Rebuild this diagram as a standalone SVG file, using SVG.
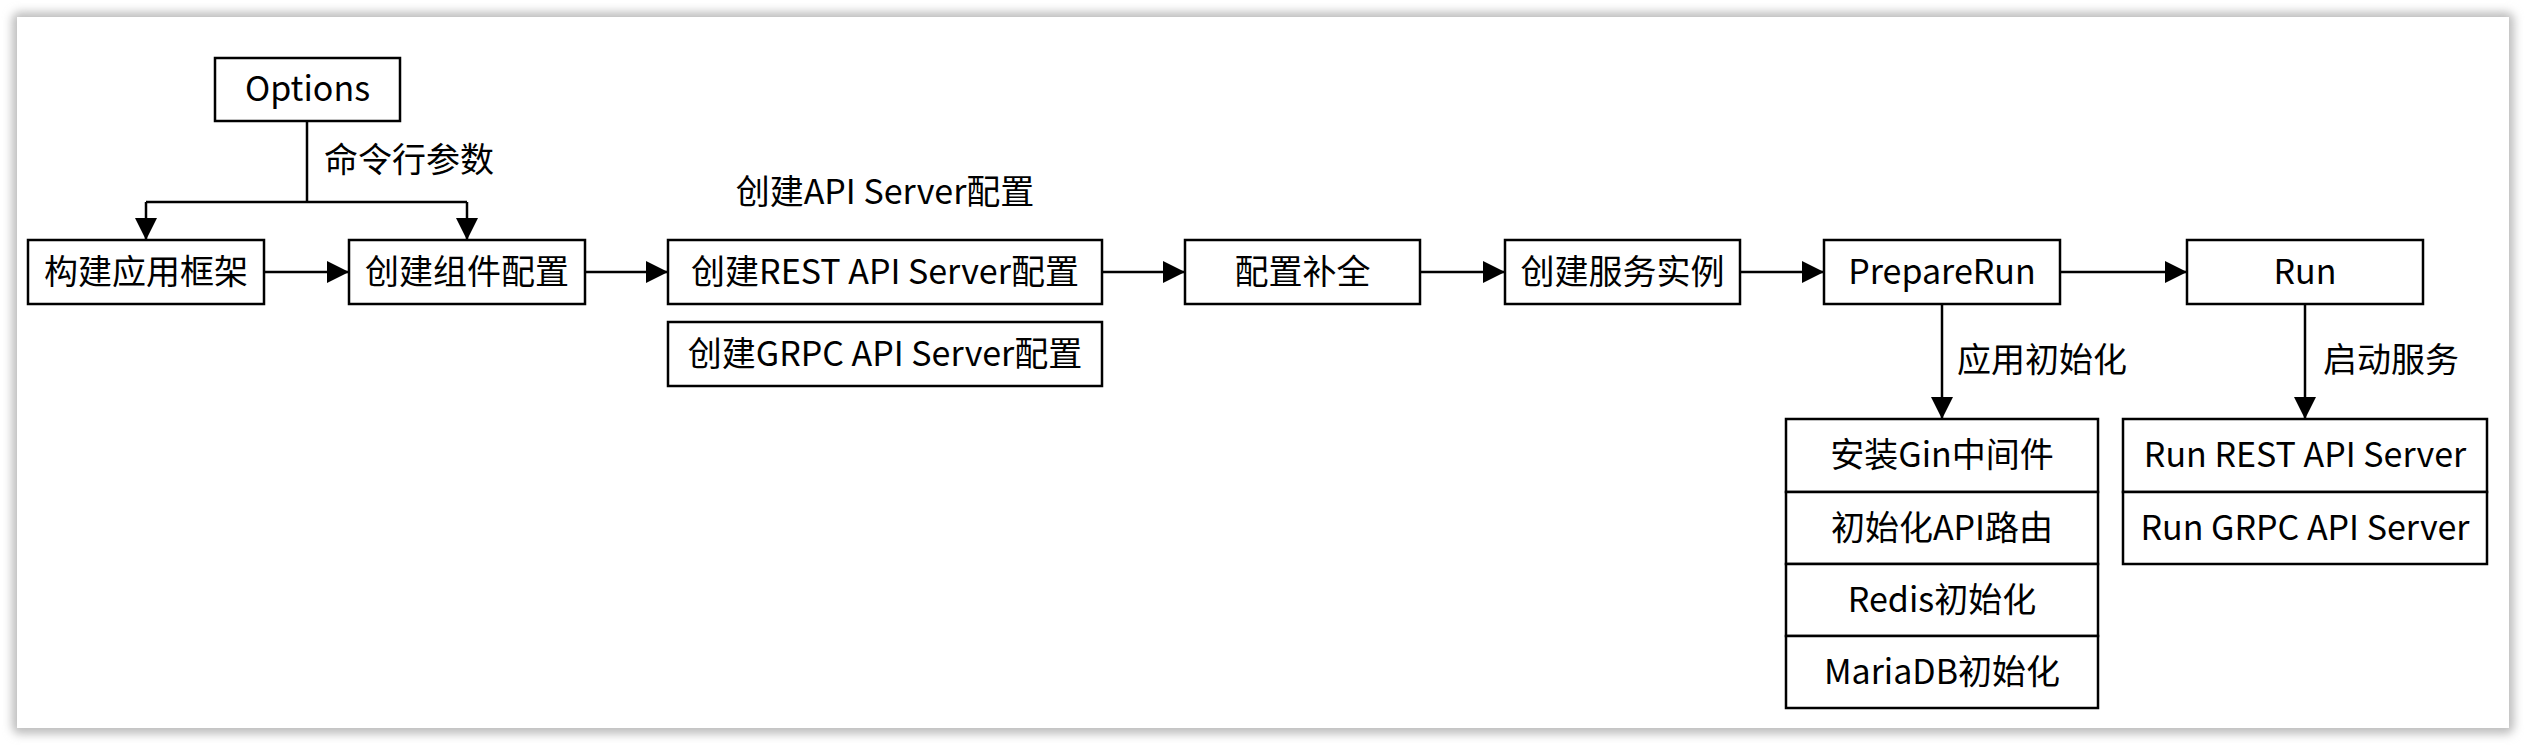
<svg xmlns="http://www.w3.org/2000/svg" width="2527" height="747" viewBox="0 0 2527 747">
<style>
.box{fill:#fff;stroke:#000;stroke-width:2.5}
.t{font-family:"Noto Sans CJK SC","Noto Sans",sans-serif;font-size:34px;fill:#000;dominant-baseline:central;text-anchor:middle}
.lbl{font-family:"Noto Sans CJK SC","Noto Sans",sans-serif;font-size:34px;fill:#000;dominant-baseline:central}
.c{fill:none;stroke:#000;stroke-width:2.5}
.ca{fill:none;stroke:#000;stroke-width:2.5;marker-end:url(#ah)}
</style>
<defs>
<marker id="ah" viewBox="0 0 22 22" refX="22" refY="11" markerWidth="22" markerHeight="22" markerUnits="userSpaceOnUse" orient="auto">
<path d="M0,0 L22,11 L0,22 z" fill="#000"/>
</marker>
<filter id="sh" x="-5%" y="-5%" width="110%" height="110%">
<feGaussianBlur stdDeviation="5"/>
</filter>
</defs>
<rect width="2527" height="747" fill="#fff"/>
<rect x="12" y="12" width="2502" height="722" rx="8" fill="#bdbdbd" filter="url(#sh)"/>
<rect x="17" y="17" width="2492" height="711" fill="#fff"/>

<g id="connectors">
<path class="c" d="M307,121 V202 M146,202 H467"/>
<path class="ca" d="M146,202 V240"/>
<path class="ca" d="M467,202 V240"/>
<path class="ca" d="M264,272 H349"/>
<path class="ca" d="M585,272 H668"/>
<path class="ca" d="M1102,272 H1185"/>
<path class="ca" d="M1420,272 H1505"/>
<path class="ca" d="M1740,272 H1824"/>
<path class="ca" d="M2060,272 H2187"/>
<path class="ca" d="M1942,304 V419"/>
<path class="ca" d="M2305,304 V419"/>
<text class="lbl" x="324" y="157">命令行参数</text>
<text class="lbl" x="1957" y="357">应用初始化</text>
<text class="lbl" x="2323" y="357">启动服务</text>
</g>

<g id="options"><rect class="box" x="215" y="58" width="185" height="63"/><text class="t" x="307.5" y="86">Options</text></g>
<g id="build-app"><rect class="box" x="28" y="240" width="236" height="64"/><text class="t" x="146" y="269">构建应用框架</text></g>
<g id="create-config"><rect class="box" x="349" y="240" width="236" height="64"/><text class="t" x="467" y="269">创建组件配置</text></g>
<g id="api-server-config">
<text class="t" x="885" y="189">创建API Server配置</text>
<rect class="box" x="668" y="240" width="434" height="64"/><text class="t" x="885" y="269">创建REST API Server配置</text>
<rect class="box" x="668" y="322" width="434" height="64"/><text class="t" x="885" y="351">创建GRPC API Server配置</text>
</g>
<g id="complete"><rect class="box" x="1185" y="240" width="235" height="64"/><text class="t" x="1302.5" y="269">配置补全</text></g>
<g id="new-server"><rect class="box" x="1505" y="240" width="235" height="64"/><text class="t" x="1622.5" y="269">创建服务实例</text></g>
<g id="prepare-run"><rect class="box" x="1824" y="240" width="236" height="64"/><text class="t" x="1942" y="269">PrepareRun</text></g>
<g id="run"><rect class="box" x="2187" y="240" width="236" height="64"/><text class="t" x="2305" y="269">Run</text></g>
<g id="init-stack">
<rect class="box" x="1786" y="419" width="312" height="73"/><text class="t" x="1942" y="452">安装Gin中间件</text>
<rect class="box" x="1786" y="492" width="312" height="72"/><text class="t" x="1942" y="525">初始化API路由</text>
<rect class="box" x="1786" y="564" width="312" height="72"/><text class="t" x="1942" y="597">Redis初始化</text>
<rect class="box" x="1786" y="636" width="312" height="72"/><text class="t" x="1942" y="669">MariaDB初始化</text>
</g>
<g id="run-stack">
<rect class="box" x="2123" y="419" width="364" height="73"/><text class="t" x="2305" y="452">Run REST API Server</text>
<rect class="box" x="2123" y="492" width="364" height="72"/><text class="t" x="2305" y="525">Run GRPC API Server</text>
</g>
</svg>
